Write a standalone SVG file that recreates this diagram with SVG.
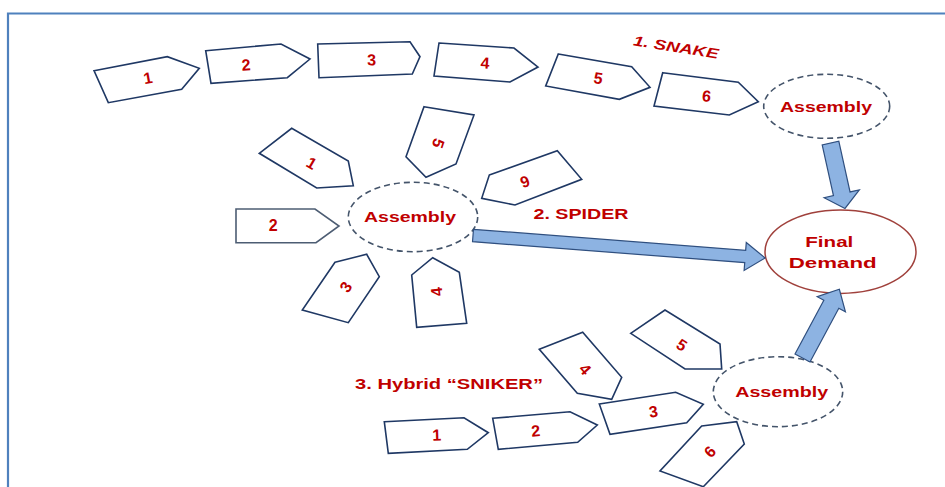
<svg xmlns="http://www.w3.org/2000/svg" width="945" height="487" viewBox="0 0 945 487">
  <style>
    .part { fill: #ffffff; stroke: #1f3864; stroke-width: 1.6; stroke-linejoin: miter; }
    .num { font-family: "Liberation Sans", Arial, sans-serif; font-weight: bold; font-size: 16px; fill: #c00000; text-anchor: middle; dominant-baseline: central; }
    .hub { fill: none; stroke: #44546a; stroke-width: 1.6; stroke-dasharray: 6 4; }
    .hubtxt { font-family: "Liberation Sans", Arial, sans-serif; font-weight: bold; font-size: 15.5px; fill: #c00000; text-anchor: middle; dominant-baseline: central; }
    .title { font-family: "Liberation Sans", Arial, sans-serif; font-weight: bold; font-size: 14px; fill: #c00000; text-anchor: middle; dominant-baseline: central; }
    .flow { fill: #8db3e2; stroke: #2f4f7f; stroke-width: 1.2; stroke-linejoin: miter; }
  </style>

  <rect x="0" y="0" width="945" height="487" fill="#ffffff"/>
  <!-- frame -->
  <path d="M8 487 V13.5 H945" fill="none" stroke="#4f81bd" stroke-width="2.2"/>

  <!-- 1. Snake -->
  <text class="title" transform="translate(676,47) rotate(9)" font-style="italic" textLength="86" lengthAdjust="spacingAndGlyphs">1. SNAKE</text>
  <g id="snake-1"><polygon class="part" points="94,70.7 167.3,56.7 199.3,68.3 181.7,89.3 108.3,102.7"/><text class="num" transform="translate(148,78) rotate(-10)">1</text></g>
  <g id="snake-2"><polygon class="part" points="205.7,50.7 281,44 310,59 287.3,77.7 211,83.3"/><text class="num" transform="translate(246,65) rotate(-4)">2</text></g>
  <g id="snake-3"><polygon class="part" points="317.7,44 410,41.7 420,56.7 412.3,74 319,77.7"/><text class="num" transform="translate(371.7,60) rotate(-1)">3</text></g>
  <g id="snake-4"><polygon class="part" points="439,43 514,48 538,67 510,82 434,76"/><text class="num" transform="translate(485,63) rotate(4)">4</text></g>
  <g id="snake-5"><polygon class="part" points="558.3,54 631.7,66.7 650,87.3 619.3,99.3 545.7,86"/><text class="num" transform="translate(598.3,78.3) rotate(9)">5</text></g>
  <g id="snake-6"><polygon class="part" points="662.7,72.7 738.3,82.3 758.3,101.7 729.3,115 654,106"/><text class="num" transform="translate(706.7,96) rotate(7)">6</text></g>
  <g id="snake-assembly"><ellipse class="hub" cx="826.7" cy="106.3" rx="63" ry="32"/><text class="hubtxt" x="826" y="106" textLength="92" lengthAdjust="spacingAndGlyphs">Assembly</text></g>

  <!-- 2. Spider -->
  <text class="title" x="581" y="214" textLength="95" lengthAdjust="spacingAndGlyphs">2. SPIDER</text>
  <g id="spider-1"><polygon class="part" points="259.3,153.3 291.7,128.3 348.3,161 353.3,185.7 316.7,188"/><text class="num" transform="translate(311.7,163.3) rotate(30)">1</text></g>
  <g id="spider-2"><polygon class="part" points="236,209 315,209 339,226 316,242.7 236,242.7" style="stroke:#4d5d73"/><text class="num" transform="translate(273.3,225)">2</text></g>
  <g id="spider-3"><polygon class="part" points="335,262.3 366.7,254.3 379.3,276.7 348.3,322.7 302.3,310"/><text class="num" transform="translate(346,287) rotate(-56)">3</text></g>
  <g id="spider-4"><polygon class="part" points="411.7,275 432.7,257.7 459.3,272.3 466.7,323.3 416.7,327.3"/><text class="num" transform="translate(436.7,291.7) rotate(-97)">4</text></g>
  <g id="spider-5"><polygon class="part" points="424,106.7 474,115 456,164 426,177.3 406,156.7"/><text class="num" transform="translate(438.3,143.3) rotate(109)">5</text></g>
  <g id="spider-6"><polygon class="part" points="489.3,175 557.3,150.7 581.7,179.3 515,205 481.7,198.3"/><text class="num" transform="translate(525,181.7) rotate(160)">6</text></g>
  <g id="spider-assembly"><ellipse class="hub" cx="413" cy="217" rx="64.7" ry="34.7"/><text class="hubtxt" x="410" y="216.7" textLength="92" lengthAdjust="spacingAndGlyphs">Assembly</text></g>

  <!-- Final demand -->
  <g id="final-demand">
    <ellipse cx="840.5" cy="251.7" rx="75.5" ry="41.7" fill="#ffffff" stroke="#a0413c" stroke-width="1.5"/>
    <text class="hubtxt" x="829.3" y="241" textLength="48" lengthAdjust="spacingAndGlyphs">Final</text>
    <text class="hubtxt" x="832.7" y="262.7" textLength="88" lengthAdjust="spacingAndGlyphs">Demand</text>
  </g>

  <!-- 3. Hybrid -->
  <text class="title" x="449" y="384" textLength="188" lengthAdjust="spacingAndGlyphs">3. Hybrid “SNIKER”</text>
  <g id="hybrid-1"><polygon class="part" points="384.3,421.7 464,417.7 488.3,432.7 467.3,449.3 388.3,453.3"/><text class="num" transform="translate(436.7,435) rotate(-2)">1</text></g>
  <g id="hybrid-2"><polygon class="part" points="492.7,418.3 570,411.7 597.3,425 577.7,442.3 498.3,449.3"/><text class="num" transform="translate(535.7,431) rotate(-5)">2</text></g>
  <g id="hybrid-3"><polygon class="part" points="599.3,404 675.7,392.3 703.3,404.3 686.7,422.7 610,434.3"/><text class="num" transform="translate(653.3,411.7) rotate(-8)">3</text></g>
  <g id="hybrid-4"><polygon class="part" points="539.3,349.3 582.7,332.3 621.7,377.3 611.7,399.3 577.3,393.3"/><text class="num" transform="translate(585,369.3) rotate(49)">4</text></g>
  <g id="hybrid-5"><polygon class="part" points="630.7,333.3 665,310 720,344 721.7,369 685,369"/><text class="num" transform="translate(681.7,345) rotate(33)">5</text></g>
  <g id="hybrid-6"><polygon class="part" points="701.7,426 736.7,421.7 744.3,444 703.3,486.7 660,471"/><text class="num" transform="translate(710,451.7) rotate(-47)">6</text></g>
  <g id="hybrid-assembly"><ellipse class="hub" cx="778" cy="391.7" rx="64.7" ry="35"/><text class="hubtxt" x="781.7" y="391" textLength="93" lengthAdjust="spacingAndGlyphs">Assembly</text></g>

  <!-- flows into final demand -->
  <g id="connectors">
    <polygon class="flow" transform="translate(473,235.5) rotate(4.4)" points="0,-6.2 273,-6.2 273,-14 293,0 273,14 273,6.2 0,6.2"/>
    <polygon class="flow" transform="translate(830.5,143) rotate(77.5)" points="0,-8.5 52,-8.5 52,-18 67,0 52,18 52,8.5 0,8.5"/>
    <polygon class="flow" transform="translate(802.5,358) rotate(-61.8)" points="0,-8.5 61,-8.5 61,-16 78,0 61,16 61,8.5 0,8.5"/>
  </g>
</svg>
